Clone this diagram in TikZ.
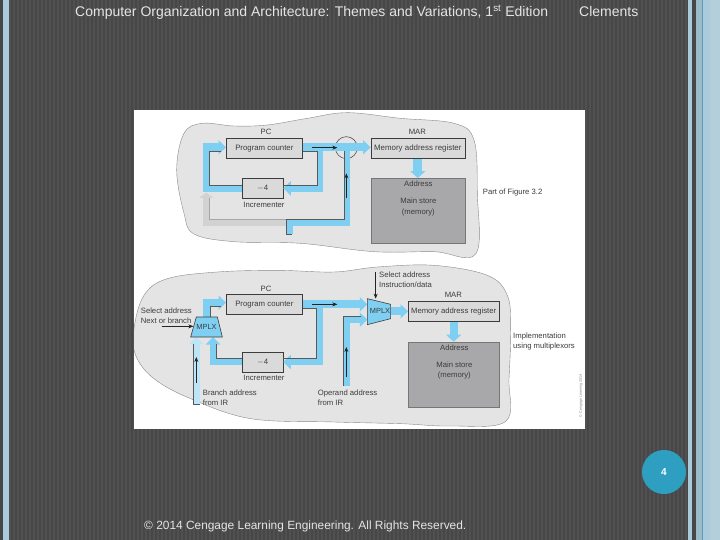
\documentclass[tikz,border=0pt]{standalone}
\usepackage{fontspec}
\setmainfont{Liberation Sans}
\usetikzlibrary{arrows.meta,shapes.geometric,calc}
\definecolor{bgA}{HTML}{474747}
\definecolor{bgB}{HTML}{505050}
\definecolor{sideblue}{HTML}{A9CBDB}
\definecolor{sidegray}{HTML}{9DBCCB}
\definecolor{sidepale}{HTML}{B4CFDB}
\definecolor{sideteal}{HTML}{5F9DB3}
\definecolor{blobgray}{HTML}{E4E4E4}
\definecolor{boxgray}{HTML}{DADADA}
\definecolor{storegray}{HTML}{A8A8AA}
\definecolor{fatblue}{HTML}{7FCFF2}
\definecolor{paleblue}{HTML}{BDE5F8}
\definecolor{fadegray}{HTML}{D2D2D2}
\definecolor{inkgray}{HTML}{3C3C3C}
\definecolor{badge}{HTML}{2E9FC1}
\tikzset{
  regbox/.style={draw=inkgray,line width=.6pt,fill=boxgray,inner sep=0pt,text=inkgray,font=\fontsize{7.8}{9}\selectfont},
  storebox/.style={draw=inkgray!70,line width=.6pt,fill=storegray,inner sep=0pt},
  lab/.style={text=inkgray,inner sep=0pt,font=\fontsize{7.7}{10.2}\selectfont,align=left},
  clab/.style={lab,align=center},
  fat/.style={draw=fatblue,line width=6.6pt},
  fatw/.style={draw=fatblue,line width=8pt},
  tipped/.style={-{Triangle[width=14pt,length=7.5pt]}},
  edgeline/.style={draw=inkgray!85,line width=.5pt},
  thinarrow/.style={draw=inkgray!60!black,line width=.6pt,-{Stealth[length=5pt,width=4pt]}},
  headtext/.style={text=white!90!black,inner sep=0pt,font=\fontsize{14}{16}\selectfont},
  blob/.style={fill=blobgray,draw=inkgray!60,line width=.4pt},
  mux/.style={draw=inkgray,line width=.6pt,fill=fatblue}
}
\begin{document}
\begin{tikzpicture}[x=1pt,y=-1pt]
\useasboundingbox (0,0) rectangle (720,540);
% slide background
\fill[bgA] (0,0) rectangle (720,540);
\foreach \i in {0,...,170} {\fill[bgB] ({9+\i*4},0) rectangle ({11+\i*4},540);}
\fill[sideblue] (3,0) rectangle (9,540);
\fill[sideblue] (688,0) rectangle (692,540);
\fill[sidegray] (696,0) rectangle (702,540);
\fill[sideteal] (702,0) rectangle (703,540);
\fill[sideblue] (703,0) rectangle (710,540);
\fill[sidepale] (710,0) rectangle (720,540);
\fill[white] (134,110) rectangle (585,429);
\node[headtext,anchor=base west] (title) at (75,17) {Computer Organization and Architecture: Themes and Variations, 1\textsuperscript{st} Edition};
\node[headtext,anchor=base west] (author) at (579,17) {Clements};
\node[headtext,anchor=base west,font=\fontsize{11.9}{14}\selectfont] (copy) at (144,529.5) {© 2014 Cengage Learning Engineering. All Rights Reserved.};
\node[circle,fill=badge,minimum size=44pt,inner sep=0pt,text=white,font=\bfseries\fontsize{10}{12}\selectfont] (pagenum) at (664,472) {4};
\node[rotate=90,text=gray,inner sep=0pt,font=\fontsize{3.6}{4}\selectfont] (credit) at (581,396) {© Cengage Learning 2014};

% ---------- upper diagram
\begin{scope}[xshift=134pt,yshift=-110pt,x=.33333pt,y=-.33333pt]
\fill[blob] plot[smooth cycle,tension=.6] coordinates {(128,180)(150,70)(205,40)(300,48)(400,45)(520,25)(640,8)(800,25)(960,40)(1020,90)(1030,250)(1025,432)(900,425)(720,425)(500,400)(300,395)(180,372)(150,310)};
\draw[inkgray,line width=.5pt] (637,113) circle (33);
\node[regbox,minimum width=76pt,minimum height=20pt] (pc) at (391,115) {Program counter};
\node[regbox,minimum width=94pt,minimum height=20pt,font=\fontsize{7.9}{9}\selectfont] (mar) at (851.5,115) {Memory address register};
\node[regbox,minimum width=40.6pt,minimum height=20pt] (inc) at (386,235) {$-$4};
\node[storebox,minimum width=94pt,minimum height=65pt] (store) at (851.5,302.5) {};
\node[clab] (pclab) at (396,67) {PC};
\node[clab] (marlab) at (850,67) {MAR};
\node[clab] (inclab) at (390,284) {Incrementer};
\node[clab] (addr) at (853,222) {Address};
\node[clab] (mem) at (853,291) {Main store\\(memory)};
\node[lab,anchor=west] (part) at (1046,248) {Part of Figure 3.2};
\coordinate (j1) at (558,112);
\coordinate (j2) at (558,235);
\coordinate (l1) at (217,235);
\coordinate (l2) at (217,112);
\coordinate (l2w) at (207,112);
\coordinate (g1) at (217,338);
\coordinate (g2) at (466,338);
\coordinate (g3) at (466,372);
\coordinate (b1) at (639,338);
\coordinate (b2) at (639,112);
% grey, unused path
\draw[draw=fadegray,line width=6.6pt] (g2) -- (g1) -- (217,262);
\fill[fadegray] (195,264) -- (239,264) -- (217,248) -- cycle;
\draw[draw=gray!70,line width=.5pt] (227,265) -- (227,328) -- (457,328);
% blue paths
\draw[fat,line width=6.4pt] (g3) -- (g2) -- (b1) -- (b2);
\draw[fatw,tipped] (pc.east |- j1) -- (mar.west |- j1);
\draw[fat,tipped] (j1) -- (j2) -- (inc.east |- j2);
\draw[fat] (inc.west |- l1) -- (l1) -- (l2);
\draw[fatw,tipped] (l2w) -- (pc.west |- l2);
\draw[fat,line width=9pt,-{Triangle[width=15pt,length=7pt]}] (mar.south -| store.north) -- (store.north);
% edge lines
\draw[edgeline] (pc.east |- 0,124) -- (550,124) -- (550,225) -- (inc.east |- 0,225);
\draw[edgeline] (262,124) -- (227,124) -- (227,225) -- (inc.west |- 0,225);
\draw[edgeline] (630,124) -- (630,328) -- (457,328) -- (457,372) -- (475,372);
% thin arrows
\draw[thinarrow] (535,113) -- (610,113);
\draw[thinarrow] (637,265) -- (637,190);
\end{scope}

% ---------- lower diagram
\begin{scope}[xshift=134pt,yshift=-262pt,x=.33333pt,y=-.33333pt]
\begin{scope}
\clip (0,0) rectangle (1356,501);
\fill[blob] plot[smooth cycle,tension=.6] coordinates {(0,200)(30,100)(100,50)(250,30)(430,25)(600,30)(730,15)(900,10)(1060,40)(1120,100)(1130,200)(1125,350)(1115,478)(950,492)(800,485)(600,480)(350,470)(170,410)(60,350)(5,280)};
\end{scope}
\node[regbox,minimum width=76pt,minimum height=20pt] (pcB) at (391,127) {Program counter};
\node[regbox,minimum width=90.7pt,minimum height=20pt,font=\fontsize{7.7}{9}\selectfont] (marB) at (959,148) {Memory address register};
\node[regbox,minimum width=40.6pt,minimum height=20pt] (incB) at (386,300) {$-$4};
\node[storebox,minimum width=90.7pt,minimum height=65.6pt] (storeB) at (959,338.5) {};
\node[clab] (pclabB) at (396,82) {PC};
\node[clab] (marlabB) at (958,99) {MAR};
\node[clab] (inclabB) at (390,349) {Incrementer};
\node[clab] (addrB) at (961,257) {Address};
\node[clab] (memB) at (961,326) {Main store\\(memory)};
\node[lab,anchor=west] (selA) at (20,161) {Select address\\Next or branch};
\node[lab,anchor=west] (selB) at (735,54) {Select address\\Instruction/data};
\node[lab,anchor=west] (brlab) at (206,408) {Branch address\\from IR};
\node[lab,anchor=west] (oplab) at (551,408) {Operand address\\from IR};
\node[lab,anchor=west] (impl) at (1137,238) {Implementation\\using multiplexors};
\coordinate (m1top) at (217,165);
\coordinate (m1pc) at (217,122);
\coordinate (m1pcw) at (207,122);
\coordinate (m1inc) at (237,225);
\coordinate (m1br) at (187,225);
\coordinate (m2a) at (700,127);
\coordinate (m2b) at (700,173);
\coordinate (m2out) at (770,148);
\coordinate (jb1) at (558,127);
\coordinate (jb2) at (558,300);
\coordinate (lb1) at (237,300);
\coordinate (op0) at (638,372);
\coordinate (op1) at (638,173);
\coordinate (br0) at (187,428);
\coordinate (selfree) at (83,193);
\coordinate (selfreeB) at (725,30);
% blue paths
\draw[fat] (m1top) -- (m1pc);
\draw[fatw,tipped] (m1pcw) -- (pcB.west |- m1pc);
\draw[fatw,tipped] (pcB.east |- m2a) -- (m2a);
\draw[fat,tipped] (jb1) -- (jb2) -- (incB.east |- jb2);
\draw[fat,tipped] (incB.west |- lb1) -- (lb1) -- (m1inc);
\draw[draw=paleblue,line width=6.4pt,-{Triangle[width=14pt,length=7pt]}] (br0) -- (m1br);
\draw[fat,tipped] (op0) -- (op1) -- (m2b);
\draw[fatw,tipped] (m2out) -- (marB.west |- m2out);
\draw[fat,line width=8pt,-{Triangle[width=15pt,length=7pt]}] (marB.south -| storeB.north) -- (storeB.north);
% edge lines
\draw[edgeline] (pcB.east |- 0,139) -- (548,139) -- (548,290) -- (incB.east |- 0,290);
\draw[edgeline] (228,165) -- (228,134) -- (262,134);
\draw[edgeline] (incB.west |- 0,290) -- (247,290) -- (247,245);
\draw[edgeline] (177,245) -- (177,428) -- (197,428);
\draw[edgeline] (628,372) -- (628,163) -- (680,163);
% multiplexers
\draw[mux] (187,165) coordinate (mlt) -- (250,165) -- (265,225) -- (170,225) -- cycle;
\path (217.5,195) node[text=inkgray,inner sep=0pt,font=\fontsize{7.4}{9}\selectfont] (muxA) {MPLX};
\draw[mux] (700,110) -- (770,127) -- (770,170) -- (700,188) -- cycle;
\path (738,148) node[text=inkgray,inner sep=0pt,font=\fontsize{7.4}{9}\selectfont] (muxB) {MPLX};
% thin arrows
\draw[thinarrow] (535,127) -- (610,127);
\draw[thinarrow] (637,345) -- (637,255);
\draw[thinarrow] (187,362) -- (187,285);
\draw[thinarrow] (selfree) -- (178,193);
\draw[thinarrow] (selfreeB) -- (725,110);
\end{scope}
\end{tikzpicture}
\end{document}
